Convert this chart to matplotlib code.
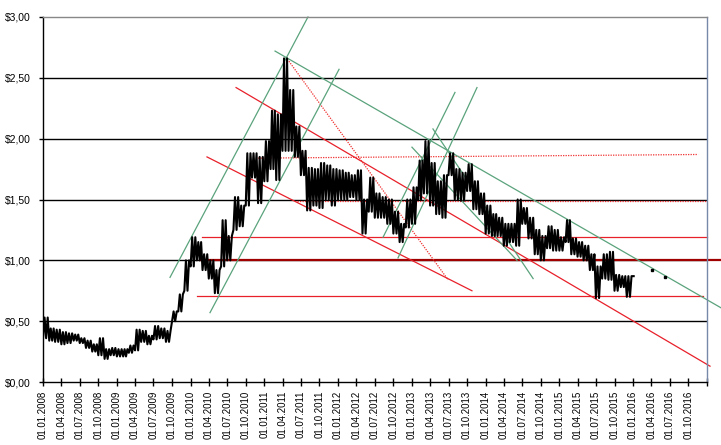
import datetime as dt

import matplotlib
matplotlib.use("Agg")
from matplotlib import pyplot
import matplotlib.dates as mdates
from matplotlib.ticker import FuncFormatter

# monthly low / high of the price, Jan 2008 .. Dec 2015
first_month = (2008, 1)
month_low = [0.36, 0.34, 0.33, 0.31, 0.32, 0.34, 0.32, 0.28, 0.25, 0.22, 0.19, 0.22,
             0.21, 0.21, 0.24, 0.26, 0.33, 0.31, 0.35, 0.36, 0.33, 0.50, 0.58, 0.75,
             0.95, 1.00, 0.92, 0.85, 0.73, 0.95, 1.00, 1.25, 1.28, 1.45, 1.68, 1.47,
             1.65, 1.75, 1.66, 1.90, 1.90, 1.85, 1.70, 1.41, 1.45, 1.43, 1.50, 1.45,
             1.50, 1.50, 1.52, 1.50, 1.22, 1.40, 1.35, 1.35, 1.30, 1.22, 1.15, 1.27,
             1.30, 1.50, 1.55, 1.45, 1.38, 1.35, 1.70, 1.50, 1.49, 1.57, 1.42, 1.38,
             1.22, 1.20, 1.20, 1.12, 1.15, 1.12, 1.30, 1.18, 1.05, 1.00, 1.10, 1.08,
             1.08, 1.15, 1.05, 1.03, 1.00, 0.92, 0.69, 0.85, 0.84, 0.75, 0.78, 0.70]
month_high = [0.53, 0.44, 0.43, 0.41, 0.40, 0.39, 0.36, 0.34, 0.31, 0.36, 0.27, 0.28,
              0.27, 0.27, 0.30, 0.43, 0.42, 0.38, 0.46, 0.44, 0.42, 0.58, 0.72, 1.00,
              1.19, 1.15, 1.05, 1.00, 0.92, 1.33, 1.20, 1.52, 1.45, 1.88, 1.88, 1.85,
              1.98, 2.23, 2.20, 2.66, 2.40, 2.10, 1.90, 1.76, 1.75, 1.80, 1.78, 1.75,
              1.74, 1.72, 1.70, 1.74, 1.50, 1.68, 1.55, 1.52, 1.50, 1.40, 1.30, 1.50,
              1.60, 1.82, 1.98, 1.80, 1.65, 1.70, 1.88, 1.75, 1.72, 1.79, 1.65, 1.55,
              1.45, 1.38, 1.35, 1.30, 1.30, 1.50, 1.43, 1.35, 1.25, 1.20, 1.28, 1.25,
              1.19, 1.33, 1.18, 1.15, 1.12, 1.05, 0.95, 1.05, 1.07, 0.88, 0.87, 0.87]
last_close = ("2016-01-04", 0.87)

# two single points after the series
extra_dates = ["2016-04-04", "2016-06-07"]
extra_vals = [0.92, 0.86]

# trend lines: start date, start value, end date, end value
green_lines = [
    ("2009-09-21", 0.86, "2011-08-05", 3.00),
    ("2010-04-07", 0.57, "2012-01-06", 2.57),
    ("2011-02-23", 2.72, "2017-03-11", 0.61),
    ("2012-08-11", 1.19, "2013-08-02", 2.38),
    ("2012-10-24", 1.02, "2013-11-19", 2.42),
    ("2013-01-01", 1.93, "2014-06-05", 1.00),
    ("2013-04-15", 2.08, "2014-08-24", 0.85),
]
red_lines = [
    ("2010-08-14", 2.42, "2017-01-16", 0.13),
    ("2010-03-23", 1.85, "2013-10-25", 0.75),
    ("2010-02-26", 1.19, "2017-01-01", 1.19),
    ("2010-02-02", 0.71, "2016-12-12", 0.71),
]
red_dotted = [
    ("2011-04-18", 2.67, "2013-06-29", 0.84),
    ("2010-12-01", 1.84, "2016-11-18", 1.87),
    ("2011-06-12", 1.49, "2017-01-01", 1.49),
]
dark_red_lines = [
    ("2010-02-16", 1.00, "2017-03-11", 1.00),
]

x_start = "2008-01-01"
x_end = "2017-01-01"
y_ticks = [0.0, 0.5, 1.0, 1.5, 2.0, 2.5, 3.0]


def d(s):
	return mdates.date2num(dt.datetime.strptime(s, "%Y-%m-%d"))


def build_path():
	# zigzag through each month's low and high
	xs, ys = [], []
	y0, m0 = first_month
	for i, (lo, hi) in enumerate(zip(month_low, month_high)):
		yy = y0 + (m0 - 1 + i) // 12
		mm = (m0 - 1 + i) % 12 + 1
		start = mdates.date2num(dt.datetime(yy, mm, 1))
		nxt = mdates.date2num(dt.datetime(yy + mm // 12, mm % 12 + 1, 1))
		step = (nxt - start) / 4.
		for k in range(4):
			xs.append(start + k * step)
			ys.append(lo if k % 2 == 0 else hi)
	xs.append(d(last_close[0]))
	ys.append(last_close[1])
	return xs, ys


def plot():
	pyplot.rcParams['font.family'] = ['Liberation Sans', 'DejaVu Sans']
	fig = pyplot.figure(figsize=(7.21, 4.45), dpi=100)
	ax = fig.add_axes([43 / 721., 63 / 445., 664 / 721., 365 / 445.])

	for yv in y_ticks[1:-1]:
		ax.axhline(yv, color='k', lw=1.0, zorder=1)

	def seg(lines, **kw):
		for a, av, b, bv in lines:
			ax.plot([d(a), d(b)], [av, bv], clip_on=False, **kw)

	seg(dark_red_lines, color='#a00000', lw=1.6, zorder=2)
	seg(red_lines, color='#e8202a', lw=0.9, zorder=2)
	seg(red_dotted, color='#f03030', lw=0.9, ls=(0, (1, 1)), zorder=2)
	seg(green_lines, color='#5aa37c', lw=0.9, zorder=2)

	xs, ys = build_path()
	ax.plot(xs, ys, color='k', lw=1.5, zorder=3)
	ax.plot([d(s) for s in extra_dates], extra_vals, 's', color='k', ms=1.6, zorder=3)

	ax.set_xlim(d(x_start), d(x_end))
	ax.set_ylim(0, 3)

	ticks = [mdates.date2num(dt.datetime(2008 + q // 4, (q % 4) * 3 + 1, 1)) for q in range(37)]
	ax.set_xticks(ticks)
	labels = [mdates.num2date(t).strftime("%d.%m.%Y") for t in ticks[:-1]] + [""]
	ax.set_xticklabels(labels, rotation=90, fontsize=7)
	ax.tick_params(axis='x', direction='inout', length=6, width=1, pad=3)

	ax.set_yticks(y_ticks)
	ax.yaxis.set_major_formatter(FuncFormatter(lambda v, p: ("$%.2f" % v).replace(".", ",")))
	ax.tick_params(axis='y', direction='out', length=3, width=1, labelsize=7.5, pad=6)

	ax.spines['left'].set_color('k')
	ax.spines['bottom'].set_color('k')
	ax.spines['top'].set_color('#888888')
	ax.spines['right'].set_color('#7888a8')
	for s in ax.spines.values():
		s.set_linewidth(1.0)

	pyplot.savefig("out.png", dpi=100)


if __name__ == "__main__":
	plot()
